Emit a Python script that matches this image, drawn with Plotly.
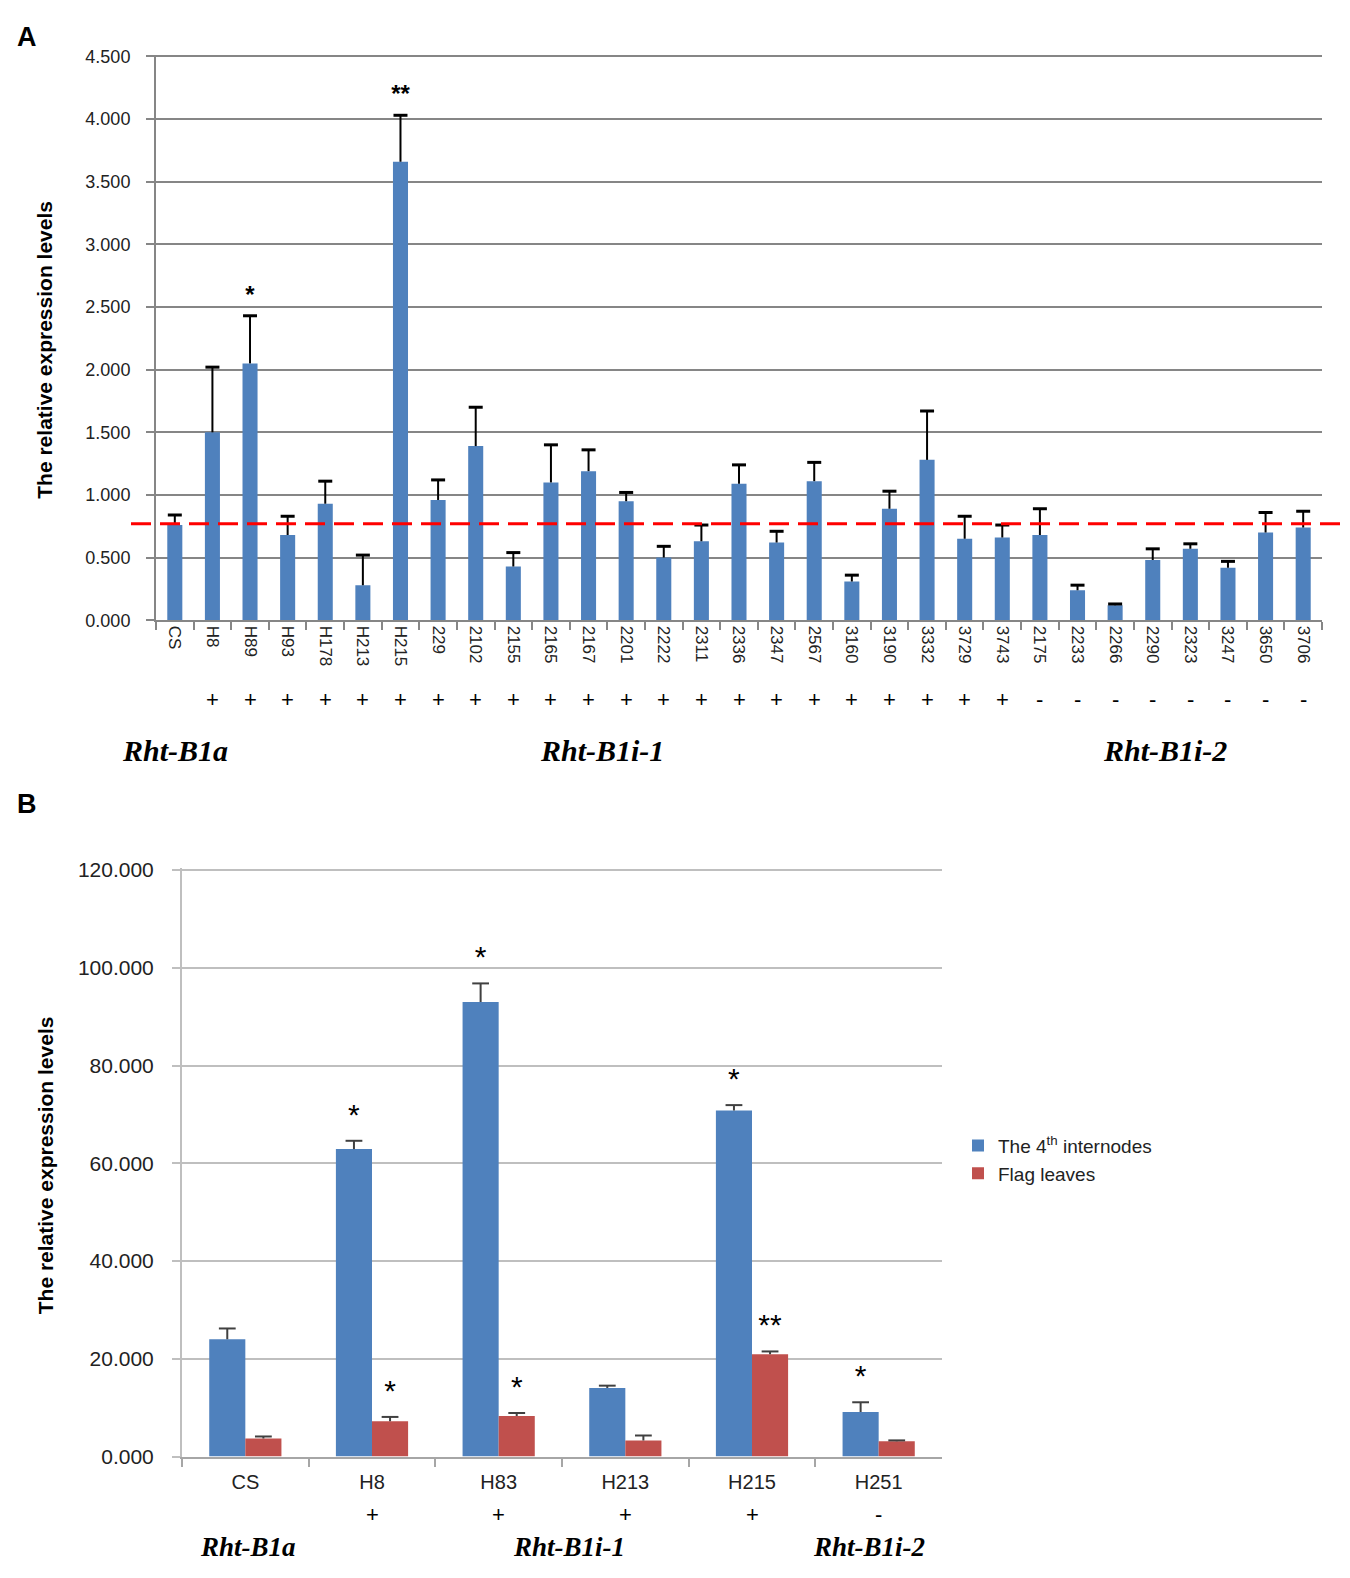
import plotly.graph_objects as go

# ---- Panel A data ----
lines_a = ["CS", "H8", "H89", "H93", "H178", "H213", "H215", "229", "2102", "2155",
           "2165", "2167", "2201", "2222", "2311", "2336", "2347", "2567", "3160", "3190",
           "3332", "3729", "3743", "2175", "2233", "2266", "2290", "2323", "3247", "3650",
           "3706"]
expr_a = [0.76, 1.50, 2.05, 0.68, 0.93, 0.28, 3.66, 0.96, 1.39, 0.43,
          1.10, 1.19, 0.95, 0.50, 0.63, 1.09, 0.62, 1.11, 0.31, 0.89,
          1.28, 0.65, 0.66, 0.68, 0.24, 0.12, 0.48, 0.57, 0.42, 0.70,
          0.74]
err_top_a = [0.84, 2.02, 2.43, 0.83, 1.11, 0.52, 4.03, 1.12, 1.70, 0.54,
             1.40, 1.36, 1.02, 0.59, 0.76, 1.24, 0.71, 1.26, 0.36, 1.03,
             1.67, 0.83, 0.76, 0.89, 0.28, 0.13, 0.57, 0.61, 0.47, 0.86,
             0.87]
signs_a = [""] + ["+"] * 22 + ["-"] * 8
stars_a = ["", "", "*", "", "", "", "**"] + [""] * 24
ref_level = 0.77
yticks_a = [0, 0.5, 1.0, 1.5, 2.0, 2.5, 3.0, 3.5, 4.0, 4.5]

# ---- Panel B data ----
lines_b = ["CS", "H8", "H83", "H213", "H215", "H251"]
internode = [24.0, 62.9, 93.0, 14.0, 70.8, 9.1]
internode_err = [26.2, 64.6, 96.8, 14.5, 71.9, 11.1]
flag = [3.7, 7.2, 8.3, 3.3, 20.9, 3.1]
flag_err = [4.1, 8.1, 8.9, 4.3, 21.5, 3.3]
signs_b = ["", "+", "+", "+", "+", "-"]
stars_internode = ["", "*", "*", "", "*", "*"]
stars_flag = ["", "*", "*", "", "**", ""]
yticks_b = [0, 20, 40, 60, 80, 100, 120]

BLUE = "#4F81BD"
RED = "#C0504D"
W, H = 1350, 1578
SANS = "Liberation Sans, Arial, sans-serif"
SERIF = "Liberation Serif, Times New Roman, serif"
B_BAR = 0.285  # bar width in panel B (category units)


def px(x):
    return x / W


def py(y):
    return 1 - y / H


fig = go.Figure()

# panel A bars + error caps
fig.add_trace(go.Bar(
    x=lines_a, y=expr_a, marker_color=BLUE, marker_line_width=0,
    error_y=dict(type="data", symmetric=False,
                 array=[e - v for e, v in zip(err_top_a, expr_a)],
                 arrayminus=[0] * len(expr_a), width=0, thickness=2, color="black"),
    xaxis="x", yaxis="y", showlegend=False,
))
fig.add_trace(go.Scatter(
    x=lines_a, y=err_top_a, mode="markers+text",
    marker=dict(symbol="line-ew-open", size=10, color="black",
                line=dict(width=3, color="black")),
    text=stars_a, textposition="top center",
    textfont=dict(family=SANS, size=24, color="black"),
    texttemplate="<b>%{text}</b>",
    xaxis="x", yaxis="y", showlegend=False, cliponaxis=False,
))

# panel B grouped bars
fig.add_trace(go.Bar(
    x=lines_b, y=internode, name="The 4<sup>th</sup> internodes",
    marker_color=BLUE, marker_line_width=0, width=B_BAR, offset=-B_BAR,
    error_y=dict(type="data", symmetric=False,
                 array=[e - v for e, v in zip(internode_err, internode)],
                 arrayminus=[0] * len(internode), width=0, thickness=2, color="#404040"),
    xaxis="x2", yaxis="y2",
))
fig.add_trace(go.Bar(
    x=lines_b, y=flag, name="Flag leaves",
    marker_color=RED, marker_line_width=0, width=B_BAR, offset=0,
    error_y=dict(type="data", symmetric=False,
                 array=[e - v for e, v in zip(flag_err, flag)],
                 arrayminus=[0] * len(flag), width=0, thickness=2, color="#404040"),
    xaxis="x2", yaxis="y2",
))
# caps and stars on an overlaying numeric axis so they sit over each bar
for tops, stars, side in [(internode_err, stars_internode, -1), (flag_err, stars_flag, 1)]:
    fig.add_trace(go.Scatter(
        x=[i + side * B_BAR / 2 for i in range(len(lines_b))], y=tops,
        mode="markers+text",
        marker=dict(symbol="line-ew-open", size=12, color="#404040",
                    line=dict(width=2, color="#404040")),
        text=stars, textposition="top center",
        textfont=dict(family=SANS, size=30, color="black"),
        xaxis="x3", yaxis="y2", showlegend=False, cliponaxis=False,
    ))

annotations = []
# signs under tick labels
for i, s in enumerate(signs_a):
    annotations.append(dict(x=i, y=py(691), xref="x", yref="paper", text=s,
                            xanchor="center", yanchor="middle", showarrow=False,
                            font=dict(family=SANS, size=22, color="black")))
for i, s in enumerate(signs_b):
    annotations.append(dict(x=i, y=py(1517), xref="x2", yref="paper", text=s,
                            xanchor="center", yanchor="middle", showarrow=False,
                            font=dict(family=SANS, size=22, color="black")))

# genotype group labels
for txt, x, y, size in [("Rht-B1a", 167, 743, 30), ("Rht-B1i-1", 594, 743, 30),
                        ("Rht-B1i-2", 1157, 743, 30), ("Rht-B1a", 240, 1550, 27),
                        ("Rht-B1i-1", 561, 1550, 27), ("Rht-B1i-2", 861, 1550, 27)]:
    annotations.append(dict(x=px(x), y=py(y), xref="paper", yref="paper",
                            xanchor="center", yanchor="middle",
                            text="<b><i>%s</i></b>" % txt, showarrow=False,
                            font=dict(family=SERIF, size=size, color="black")))

# axis titles and panel letters
for y in (337, 1163):
    annotations.append(dict(x=px(37), y=py(y), xref="paper", yref="paper", textangle=-90,
                            xanchor="center", yanchor="middle",
                            text="<b>The relative expression levels</b>", showarrow=False,
                            font=dict(family=SANS, size=21, color="black")))
for letter, y in (("A", 20), ("B", 797)):
    annotations.append(dict(x=px(19), y=py(y), xref="paper", yref="paper",
                            xanchor="center", yanchor="middle",
                            text="<b>%s</b>" % letter, showarrow=False,
                            font=dict(family=SANS, size=27, color="black")))

fig.update_layout(
    width=W, height=H,
    margin=dict(l=0, r=0, t=0, b=0),
    paper_bgcolor="white", plot_bgcolor="white",
    barmode="overlay", bargap=0.6,
    font=dict(family=SANS, color="#222222"),
    xaxis=dict(domain=[px(148), px(1314)], anchor="y", type="category",
               range=[-0.5, len(lines_a) - 0.5],
               showline=True, linecolor="#868686", linewidth=2,
               ticks="outside", tickson="boundaries", ticklen=8, tickcolor="#868686",
               tickwidth=2, tickangle=90, tickfont=dict(size=17, color="#222222")),
    # range runs a touch past 4.5 so the top gridline is not clipped away
    yaxis=dict(domain=[py(611), py(38)], anchor="x", range=[0, 4.515],
               tickvals=yticks_a, tickformat=".3f",
               showgrid=True, gridcolor="#868686", gridwidth=2,
               showline=True, linecolor="#868686", linewidth=2, zeroline=False,
               ticks="outside", ticklen=8, tickcolor="#868686", tickwidth=2,
               ticklabelstandoff=12, tickfont=dict(size=18, color="#222222")),
    xaxis2=dict(domain=[px(174), px(934)], anchor="y2", type="category",
                range=[-0.5, len(lines_b) - 0.5],
                showline=True, linecolor="#A6A6A6", linewidth=2,
                ticks="outside", tickson="boundaries", ticklen=8, tickcolor="#A6A6A6",
                tickwidth=2, ticklabelstandoff=6, tickfont=dict(size=20, color="#222222")),
    xaxis3=dict(overlaying="x2", anchor="y2", range=[-0.5, len(lines_b) - 0.5],
                visible=False),
    yaxis2=dict(domain=[py(1458), py(861.5)], anchor="x2", range=[0, 120.5],
                tickvals=yticks_b, tickformat=".3f",
                showgrid=True, gridcolor="#BFBFBF", gridwidth=2,
                showline=True, linecolor="#BFBFBF", linewidth=2, zeroline=False,
                ticks="outside", ticklen=8, tickcolor="#BFBFBF", tickwidth=2,
                ticklabelstandoff=14, tickfont=dict(size=21, color="#222222")),
    legend=dict(x=px(950), y=py(1124), xanchor="left", yanchor="top",
                font=dict(family=SANS, size=19, color="#222222"),
                bgcolor="rgba(0,0,0,0)", tracegroupgap=8),
    shapes=[dict(type="line", xref="paper", yref="y", x0=px(123), x1=px(1340),
                 y0=ref_level, y1=ref_level,
                 line=dict(color="#FF0000", width=3, dash="20px,9px"))],
    annotations=annotations,
)

fig.write_html("out.html")
